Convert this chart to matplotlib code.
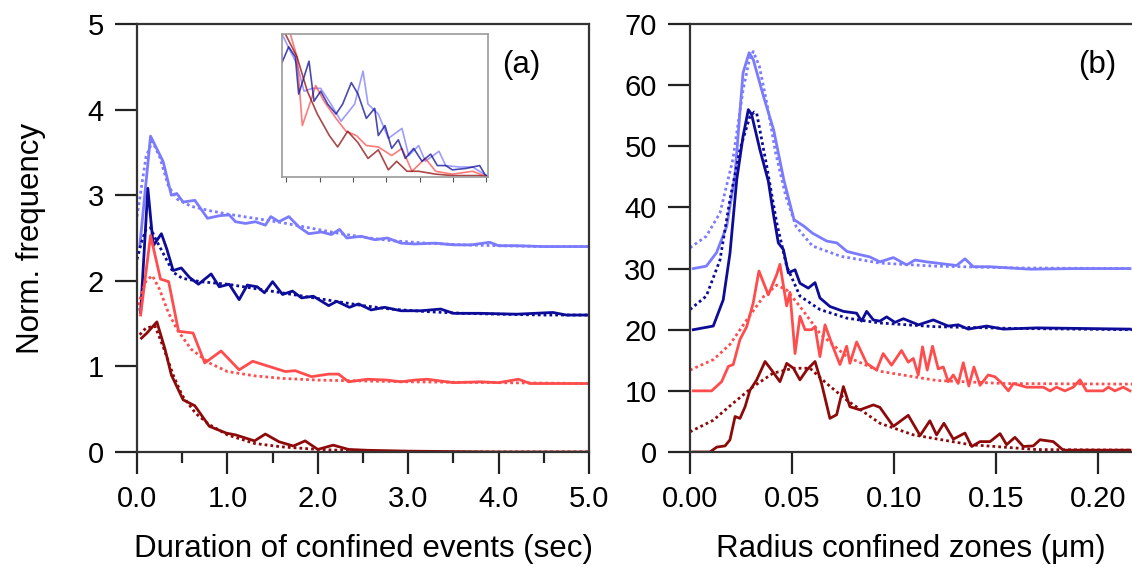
import numpy as np
import matplotlib
matplotlib.use("Agg")
import matplotlib.pyplot as plt

plt.rcParams['font.family'] = ['Liberation Sans', 'DejaVu Sans']

# colours of the four curves (top to bottom)
c_lb = '#7b7bff'
c_nv = '#0c0c98'
c_lr = '#ff4d4d'
c_dr = '#8e0a0a'

# ---------------- panel (a): duration of confined events ----------------
lb_a_x = [0.03, 0.15, 0.29, 0.38, 0.44, 0.51, 0.64, 0.78, 0.91, 1.02, 1.09, 1.20, 1.31, 1.42, 1.48,
          1.57, 1.68, 1.79, 1.90, 2.04, 2.15, 2.24, 2.32, 2.48, 2.63, 2.77, 2.92, 3.07, 3.3, 3.5,
          3.7, 3.9, 4.0, 4.2, 4.5, 4.8, 5.0]
lb_a_y = [2.40, 3.69, 3.39, 3.00, 3.02, 2.92, 2.94, 2.73, 2.76, 2.77, 2.69, 2.67, 2.69, 2.65, 2.75,
          2.69, 2.75, 2.63, 2.55, 2.57, 2.54, 2.60, 2.50, 2.52, 2.48, 2.50, 2.44, 2.43, 2.44, 2.42,
          2.42, 2.45, 2.41, 2.41, 2.40, 2.40, 2.40]
lb_a_fx = [0.0, 0.05, 0.10, 0.17, 0.25, 0.35, 0.45, 0.6, 0.8, 1.0, 1.3, 1.6, 1.9, 2.2, 2.5, 2.8,
           3.2, 3.6, 4.0, 4.5, 5.0]
lb_a_fy = [2.75, 3.10, 3.45, 3.63, 3.45, 3.10, 2.95, 2.87, 2.82, 2.78, 2.73, 2.68, 2.62, 2.56, 2.51,
           2.47, 2.44, 2.42, 2.41, 2.40, 2.40]

nv_a_x = [0.04, 0.12, 0.18, 0.27, 0.33, 0.40, 0.49, 0.58, 0.68, 0.82, 0.91, 1.02, 1.13, 1.22, 1.33,
          1.41, 1.50, 1.61, 1.72, 1.82, 1.95, 2.12, 2.21, 2.35, 2.45, 2.59, 2.74, 2.92, 3.14, 3.36,
          3.5, 3.8, 4.2, 4.6, 4.75, 5.0]
nv_a_y = [1.63, 3.08, 2.41, 2.55, 2.37, 2.12, 2.15, 2.04, 1.96, 2.08, 1.93, 1.96, 1.78, 1.95, 1.93,
          1.86, 1.99, 1.84, 1.88, 1.80, 1.82, 1.71, 1.76, 1.69, 1.73, 1.66, 1.69, 1.65, 1.65, 1.67,
          1.62, 1.62, 1.61, 1.63, 1.60, 1.60]
nv_a_fx = [0.0, 0.05, 0.10, 0.15, 0.20, 0.3, 0.4, 0.5, 0.7, 1.0, 1.3, 1.6, 1.9, 2.2, 2.5, 2.8,
           3.2, 3.6, 4.0, 4.5, 5.0]
nv_a_fy = [2.25, 2.45, 2.60, 2.62, 2.50, 2.30, 2.10, 2.03, 1.99, 1.96, 1.91, 1.86, 1.81, 1.76, 1.71,
           1.67, 1.64, 1.62, 1.61, 1.60, 1.60]

lr_a_x = [0.04, 0.15, 0.26, 0.35, 0.46, 0.62, 0.75, 0.93, 1.13, 1.28, 1.46, 1.64, 1.75, 1.93, 2.12,
          2.23, 2.34, 2.55, 2.77, 2.92, 3.07, 3.21, 3.5, 3.8, 4.0, 4.22, 4.35, 4.6, 5.0]
lr_a_y = [1.60, 2.53, 2.02, 1.99, 1.41, 1.39, 1.04, 1.18, 0.96, 1.06, 1.00, 0.94, 0.95, 0.88, 0.91,
          0.91, 0.82, 0.85, 0.84, 0.82, 0.84, 0.85, 0.81, 0.82, 0.81, 0.85, 0.80, 0.80, 0.80]
lr_a_fx = [0.0, 0.05, 0.10, 0.17, 0.25, 0.35, 0.45, 0.6, 0.8, 1.0, 1.3, 1.6, 2.0, 2.5, 3.0, 4.0, 5.0]
lr_a_fy = [1.65, 1.85, 2.00, 2.06, 1.90, 1.62, 1.42, 1.20, 1.04, 0.94, 0.89, 0.86, 0.84, 0.83, 0.82,
           0.81, 0.80]

dr_a_x = [0.05, 0.11, 0.22, 0.31, 0.38, 0.51, 0.64, 0.80, 0.99, 1.09, 1.30, 1.42, 1.57, 1.73, 1.86,
          2.00, 2.17, 2.34, 2.55, 3.0, 4.0, 5.0]
dr_a_y = [1.33, 1.39, 1.52, 1.20, 0.90, 0.61, 0.54, 0.30, 0.22, 0.20, 0.13, 0.21, 0.12, 0.07, 0.13,
          0.03, 0.08, 0.03, 0.02, 0.01, 0.0, 0.0]
dr_a_fx = [0.03, 0.10, 0.20, 0.30, 0.40, 0.50, 0.65, 0.8, 1.0, 1.3, 1.6, 2.0, 2.5, 3.0, 4.0, 5.0]
dr_a_fy = [1.37, 1.45, 1.47, 1.20, 0.90, 0.66, 0.45, 0.32, 0.20, 0.10, 0.06, 0.03, 0.01, 0.0, 0.0, 0.0]

a_xticks = [0, 1, 2, 3, 4, 5]
a_xlabels = ['0.0', '1.0', '2.0', '3.0', '4.0', '5.0']

# inset of panel (a) (arbitrary units)
lb_i_x = [-0.13, 0.12, 0.32, 0.53, 0.78, 1.03, 1.34, 1.64, 2.05, 2.30, 2.45, 2.76, 3.06, 3.47, 3.67,
          3.97, 4.17, 4.58, 4.78, 5.19, 5.59, 6.0]
lb_i_y = [1.0, 0.88, 0.79, 0.60, 0.62, 0.62, 0.51, 0.39, 0.51, 0.74, 0.51, 0.44, 0.27, 0.34, 0.15,
          0.22, 0.11, 0.18, 0.08, 0.07, 0.07, 0.01]
nv_i_x = [-0.18, -0.13, 0.07, 0.27, 0.37, 0.68, 0.83, 1.03, 1.24, 1.49, 1.69, 1.95, 2.15, 2.40, 2.65,
          2.76, 2.96, 3.16, 3.36, 3.57, 3.82, 4.07, 4.33, 4.53, 4.78, 4.98, 5.39, 5.80, 5.95, 6.05]
nv_i_y = [0.95, 0.80, 0.91, 0.84, 0.58, 0.81, 0.53, 0.60, 0.51, 0.44, 0.51, 0.66, 0.58, 0.41, 0.48,
          0.29, 0.36, 0.20, 0.26, 0.13, 0.20, 0.11, 0.16, 0.08, 0.08, 0.05, 0.06, 0.08, 0.02, 0.0]
lr_i_x = [0.12, 0.32, 0.48, 0.73, 0.88, 1.13, 1.49, 1.79, 2.10, 2.40, 2.76, 3.16, 3.47, 3.77, 4.17,
          4.48, 4.98, 5.59, 6.05]
lr_i_y = [1.0, 0.84, 0.36, 0.53, 0.64, 0.53, 0.41, 0.32, 0.29, 0.22, 0.21, 0.15, 0.20, 0.04, 0.13,
          0.04, 0.02, 0.04, 0.0]
dr_i_x = [-0.03, 0.32, 0.63, 0.93, 1.29, 1.54, 1.84, 2.15, 2.45, 2.76, 3.06, 3.31, 3.62, 3.97, 4.48,
          4.98, 5.80, 6.05]
dr_i_y = [1.0, 0.84, 0.60, 0.44, 0.29, 0.21, 0.32, 0.24, 0.13, 0.19, 0.05, 0.11, 0.04, 0.04, 0.02,
          0.01, 0.01, 0.0]

# ---------------- panel (b): radius of confined zones ----------------
lb_b_x = [0.0016, 0.008, 0.013, 0.018, 0.022, 0.026, 0.029, 0.031, 0.036, 0.041, 0.046, 0.051, 0.056,
          0.060, 0.067, 0.072, 0.077, 0.083, 0.0882, 0.0931, 0.0997, 0.1062, 0.1103, 0.1160, 0.1307,
          0.1348, 0.1389, 0.1471, 0.1667, 0.1896, 0.2157]
lb_b_y = [30.0, 30.4, 32.6, 36.9, 45.1, 62.0, 65.3, 64.2, 58.2, 52.7, 44.5, 38.0, 36.9, 35.8, 34.5,
          34.2, 32.8, 32.3, 31.9, 31.1, 31.8, 30.6, 31.4, 31.1, 30.5, 31.6, 30.3, 30.3, 29.9, 30.0, 30.0]
lb_b_fx = [0.0, 0.008, 0.0147, 0.021, 0.026, 0.029, 0.031, 0.034, 0.038, 0.042, 0.047, 0.052, 0.060,
           0.074, 0.093, 0.12, 0.16, 0.2167]
lb_b_fy = [33.4, 35.3, 39.1, 47.8, 59.2, 64.0, 65.5, 63.1, 56.5, 48.9, 41.8, 36.9, 33.7, 32.0, 30.9,
           30.4, 30.1, 30.0]

nv_b_x = [0.0016, 0.0114, 0.0163, 0.0196, 0.0229, 0.026, 0.0286, 0.0302, 0.0343, 0.0384, 0.0408,
          0.0433, 0.0458, 0.0482, 0.0515, 0.0539, 0.058, 0.0613, 0.0637, 0.0686, 0.0752, 0.0817,
          0.0841, 0.0866, 0.0899, 0.0931, 0.0964, 0.1005, 0.1046, 0.112, 0.1193, 0.1266, 0.1315,
          0.1364, 0.1454, 0.1536, 0.1699, 0.2157]
nv_b_y = [20.0, 20.6, 24.9, 32.5, 44.5, 51.6, 56.0, 55.2, 49.4, 44.3, 39.1, 34.2, 33.1, 29.3, 29.8,
          27.6, 26.8, 27.7, 25.2, 23.8, 23.0, 22.7, 21.4, 23.0, 21.6, 21.4, 22.1, 21.2, 21.8, 20.8,
          21.6, 20.6, 20.8, 20.1, 20.6, 20.1, 20.3, 20.1]
nv_b_fx = [0.0, 0.008, 0.0147, 0.0196, 0.0245, 0.0294, 0.0315, 0.0327, 0.0376, 0.0425, 0.0474,
           0.0539, 0.0637, 0.0768, 0.0931, 0.12, 0.16, 0.2167]
nv_b_fy = [23.3, 25.5, 31.4, 41.3, 49.5, 54.9, 55.6, 55.4, 46.8, 37.5, 30.4, 25.5, 23.3, 21.9, 21.1,
           20.5, 20.2, 20.0]

lr_b_x = [0.0016, 0.0106, 0.0155, 0.0188, 0.0212, 0.0245, 0.0278, 0.031, 0.0338, 0.0384, 0.0425,
          0.0441, 0.0474, 0.049, 0.0515, 0.0539, 0.0564, 0.0596, 0.0613, 0.0637, 0.0662, 0.0694,
          0.0735, 0.0768, 0.0784, 0.0817, 0.0866, 0.0915, 0.0947, 0.0988, 0.1037, 0.107, 0.1095,
          0.1119, 0.114, 0.1163, 0.1189, 0.1217, 0.1242, 0.1266, 0.1291, 0.1315, 0.134, 0.1367,
          0.1392, 0.1422, 0.1462, 0.1495, 0.1528, 0.1561, 0.1585, 0.165, 0.1732, 0.1765, 0.1797,
          0.1838, 0.1879, 0.1912, 0.1944, 0.2026, 0.2051, 0.2083, 0.2124, 0.2157]
lr_b_y = [10.0, 10.0, 11.5, 14.0, 14.3, 18.4, 20.5, 24.4, 29.6, 25.7, 29.0, 30.7, 23.9, 26.1, 16.1,
          22.2, 20.0, 20.0, 20.5, 15.6, 20.8, 17.8, 14.3, 17.3, 14.5, 18.0, 14.5, 13.4, 16.1, 14.2,
          16.6, 14.7, 15.3, 12.6, 17.2, 13.4, 17.3, 13.6, 13.9, 11.5, 12.6, 11.2, 14.6, 10.8, 13.9,
          10.9, 12.6, 12.3, 11.3, 10.0, 11.2, 10.6, 10.6, 10.0, 10.6, 10.0, 10.6, 11.8, 10.0, 10.0,
          10.6, 10.0, 10.6, 10.0]
lr_b_fx = [0.0, 0.0114, 0.0196, 0.0278, 0.036, 0.0425, 0.0474, 0.0539, 0.0637, 0.0768, 0.0931,
           0.1209, 0.1536, 0.2167]
lr_b_fy = [13.4, 15.1, 17.6, 21.6, 25.4, 27.3, 26.5, 23.8, 19.4, 15.6, 13.2, 11.7, 11.2, 11.1]

dr_b_x = [0.0016, 0.0098, 0.0131, 0.0172, 0.0196, 0.0221, 0.0245, 0.027, 0.0294, 0.0327, 0.0368,
          0.04, 0.0441, 0.0474, 0.0507, 0.0539, 0.0572, 0.0613, 0.0645, 0.0686, 0.0719, 0.0752,
          0.0784, 0.0833, 0.0899, 0.0931, 0.0997, 0.107, 0.1128, 0.1176, 0.1209, 0.1245, 0.1291,
          0.1348, 0.1381, 0.1422, 0.1471, 0.152, 0.1552, 0.1593, 0.1634, 0.1683, 0.1716, 0.1781,
          0.183, 0.1944, 0.2157]
dr_b_y = [0.0, 0.0, 0.8, 1.0, 2.0, 5.8, 5.5, 7.4, 10.1, 11.8, 14.8, 13.4, 11.5, 14.5, 13.7, 11.8,
          13.4, 14.8, 11.2, 5.5, 6.1, 10.7, 7.4, 6.9, 7.7, 7.3, 4.2, 6.0, 2.7, 5.1, 2.8, 4.7, 2.1,
          3.1, 0.9, 1.7, 1.7, 3.0, 1.2, 2.4, 0.9, 1.0, 2.0, 1.7, 0.3, 0.3, 0.3]
dr_b_fx = [0.0, 0.0114, 0.0212, 0.031, 0.0408, 0.0507, 0.0588, 0.067, 0.0768, 0.0931, 0.1095,
           0.1373, 0.1699, 0.2167]
dr_b_fy = [3.3, 5.2, 8.0, 10.7, 12.9, 13.7, 13.7, 11.2, 8.5, 4.7, 2.8, 1.2, 0.4, 0.3]

b_xticks = [0.0, 0.05, 0.10, 0.15, 0.20]
b_xlabels = ['0.00', '0.05', '0.10', '0.15', '0.20']

# ---------------- figure ----------------
fig = plt.figure(figsize=(11.32, 5.67), dpi=100)
ax_a = fig.add_axes([137/1132, 115/567, 452/1132, 428/567])
ax_b = fig.add_axes([690/1132, 115/567, 1 - 690/1132, 428/567])

dot = (0, (1, 1.1))
lw = 2.0
series_a = [(lb_a_x, lb_a_y, lb_a_fx, lb_a_fy, c_lb),
            (nv_a_x, nv_a_y, nv_a_fx, nv_a_fy, c_nv),
            (lr_a_x, lr_a_y, lr_a_fx, lr_a_fy, c_lr),
            (dr_a_x, dr_a_y, dr_a_fx, dr_a_fy, c_dr)]
for x, y, fx, fy, c in series_a:
    ax_a.plot(fx, fy, color=c, lw=lw, ls=dot)
    ax_a.plot(x, y, color=c, lw=lw)

series_b = [(lb_b_x, lb_b_y, lb_b_fx, lb_b_fy, c_lb),
            (nv_b_x, nv_b_y, nv_b_fx, nv_b_fy, c_nv),
            (lr_b_x, lr_b_y, lr_b_fx, lr_b_fy, c_lr),
            (dr_b_x, dr_b_y, dr_b_fx, dr_b_fy, c_dr)]
for x, y, fx, fy, c in series_b:
    ax_b.plot(fx, fy, color=c, lw=lw, ls=dot)
    ax_b.plot(x, y, color=c, lw=lw)

ax_a.set_xlim(0, 5)
ax_a.set_ylim(0, 5)
ax_a.set_xticks(a_xticks)
ax_a.set_xticklabels(a_xlabels)
ax_a.set_xticks([0.5, 1.5, 2.5, 3.5, 4.5], minor=True)
ax_a.set_yticks([0, 1, 2, 3, 4, 5])
ax_a.set_xlabel('Duration of confined events (sec)', fontsize=22.5, labelpad=15)
ax_a.set_ylabel('Norm. frequency', fontsize=22.5, labelpad=30)
ax_a.text(0.85, 0.905, '(a)', transform=ax_a.transAxes, fontsize=22.5, ha='center', va='center')

ax_b.set_xlim(0, 0.2167)
ax_b.set_ylim(0, 70)
ax_b.set_xticks(b_xticks)
ax_b.set_xticklabels(b_xlabels)
ax_b.set_yticks(range(0, 71, 10))
ax_b.set_xlabel('Radius confined zones (\u03bcm)', fontsize=22.5, labelpad=15)
ax_b.spines['right'].set_visible(False)
ax_b.text(0.922, 0.905, '(b)', transform=ax_b.transAxes, fontsize=22.5, ha='center', va='center')

for ax in (ax_a, ax_b):
    for s in ax.spines.values():
        s.set_linewidth(1.6)
        s.set_color('#333333')
    ax.tick_params(which='major', direction='out', length=16, width=1.6, labelsize=21,
                   color='#222222', pad=8)
    ax.tick_params(which='minor', direction='out', length=8, width=1.6, color='#222222')

# inset
ax_i = fig.add_axes([282/1132, (567-177)/567, 206/1132, 143/567])
for x, y, c in [(lb_i_x, lb_i_y, c_lb), (lr_i_x, lr_i_y, c_lr),
                (nv_i_x, nv_i_y, c_nv), (dr_i_x, dr_i_y, c_dr)]:
    ax_i.plot(x, y, color=c, lw=1.2, alpha=0.75)
ax_i.set_xlim(-0.13, 6.05)
ax_i.set_ylim(0, 1)
ax_i.set_xticks(range(7))
ax_i.set_yticks([])
ax_i.tick_params(axis='x', direction='out', length=3.5, width=0.8, color='#555555',
                 labelbottom=False)
for s in ax_i.spines.values():
    s.set_linewidth(1.2)
    s.set_color('#999999')

fig.savefig('out.png', dpi=100)
